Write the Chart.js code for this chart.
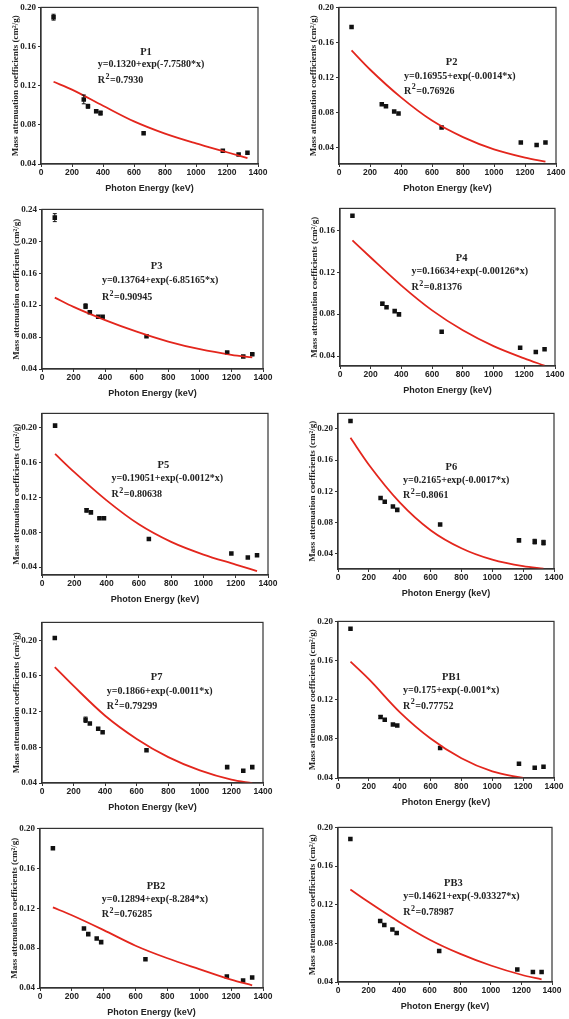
<!DOCTYPE html>
<html>
<head>
<meta charset="utf-8">
<script src="https://cdn.jsdelivr.net/npm/chart.js@4.4.1/dist/chart.umd.min.js"></script>
<style>
  body { margin: 0; background: #fff; }
  #wrap { position: relative; width: 569px; height: 1019px; overflow: hidden; }
  #wrap canvas { position: absolute; }
</style>
</head>
<body>
<div id="wrap"></div>
<script>
// Photon energies (keV) - same for every sample
const energies = [81, 276, 303, 356, 384, 662, 1173, 1275, 1332];
const xTicks = [0, 200, 400, 600, 800, 1000, 1200, 1400];

// Measured mass attenuation coefficients (cm2/g)
const p1Values  = [0.190, 0.106, 0.099, 0.094, 0.092, 0.0714, 0.0535, 0.0498, 0.0515];
const p2Values  = [0.1777, 0.0892, 0.0869, 0.0809, 0.0786, 0.0627, 0.0457, 0.0427, 0.0457];
const p3Values  = [0.2297, 0.1187, 0.1112, 0.1054, 0.1054, 0.081, 0.0607, 0.0557, 0.0586];
const p4Values  = [0.1739, 0.0899, 0.0867, 0.0829, 0.0798, 0.0631, 0.0479, 0.0438, 0.0466];
const p5Values  = [0.202, 0.105, 0.1027, 0.0959, 0.0959, 0.0723, 0.0556, 0.051, 0.0537];
const p6Values  = [0.2101, 0.1112, 0.1065, 0.1002, 0.096, 0.0771, 0.0568, 0.0552, 0.0539];
const p7Values  = [0.2026, 0.1109, 0.1068, 0.1009, 0.0968, 0.0767, 0.0578, 0.0537, 0.0578];
const pb1Values = [0.1926, 0.1023, 0.0996, 0.0946, 0.0936, 0.0707, 0.0545, 0.0504, 0.0514];
const pb2Values = [0.1801, 0.0996, 0.094, 0.0897, 0.086, 0.0688, 0.0516, 0.0476, 0.0506];
const pb3Values = [0.188, 0.1032, 0.0991, 0.0944, 0.0906, 0.0721, 0.053, 0.0503, 0.0503];

// Error bars (only the visible ones)
const p1Errors  = [0.003, 0.0045, 0.002, 0.0015, 0.002, 0, 0, 0, 0];
const p3Errors  = [0.005, 0.003, 0.001, 0, 0.001, 0, 0.001, 0, 0.001];
const p4Errors  = [0, 0.0015, 0, 0, 0.001, 0, 0, 0, 0];
const p5Errors  = [0, 0.002, 0, 0.001, 0, 0, 0, 0, 0];
const p6Errors  = [0, 0, 0, 0, 0, 0, 0, 0.003, 0.003];
const p7Errors  = [0, 0.003, 0, 0, 0, 0, 0, 0, 0];
const pb1Errors = [0, 0.0015, 0, 0, 0, 0, 0, 0, 0];
const pb3Errors = [0, 0, 0, 0, 0.0015, 0, 0, 0, 0];
const noErrors  = [0, 0, 0, 0, 0, 0, 0, 0, 0];

// Fitted curves
const fitX    = [81, 200, 400, 600, 800, 1000, 1200, 1332];
const pb1FitX = [81, 200, 400, 600, 800, 1000, 1200];
const p1Fit  = [0.124, 0.116, 0.0995, 0.0835, 0.071, 0.061, 0.052, 0.046];
const p2Fit  = [0.1508, 0.129, 0.0971, 0.0706, 0.0517, 0.0377, 0.0283, 0.0237];
const p3Fit  = [0.1294, 0.1178, 0.1013, 0.0868, 0.0744, 0.0648, 0.0578, 0.0545];
const p4Fit  = [0.1505, 0.1341, 0.1073, 0.0836, 0.0646, 0.0495, 0.0378, 0.0308];
const p5Fit  = [0.1696, 0.1487, 0.1164, 0.089, 0.0689, 0.0544, 0.043, 0.0354];
const p6Fit  = [0.1886, 0.1541, 0.1057, 0.0699, 0.0467, 0.032, 0.0236, 0.0206];
const p7Fit  = [0.1699, 0.1488, 0.1154, 0.0894, 0.069, 0.0541, 0.0437, 0.0398];
const pb1Fit = [0.1589, 0.141, 0.1074, 0.0804, 0.0602, 0.0467, 0.0400];
const pb2Fit = [0.1208, 0.1129, 0.098, 0.0824, 0.0698, 0.0589, 0.0483, 0.0427];
const pb3Fit = [0.1357, 0.1227, 0.1022, 0.0838, 0.0691, 0.0571, 0.0475, 0.0427];

// Y tick labels
const yTicks20 = [0.04, 0.08, 0.12, 0.16, 0.20];
const yTicks24 = [0.04, 0.08, 0.12, 0.16, 0.20, 0.24];
const yTicks16 = [0.04, 0.08, 0.12, 0.16];

// Panel setup: box = plot area [left, top, right, bottom] on the page,
// txt = [label x, label y, formula x, formula y, R2 y] as fractions of the plot area
const panels = [
  { name: 'P1', values: p1Values, errors: p1Errors, fx: fitX, fit: p1Fit, formula: 'y=0.1320+exp(-7.7580*x)', r2: '0.7930',
    yMin: 0.04, yMax: 0.20, yTicks: yTicks20, box: [41, 6, 258, 164], txt: [0.484, 0.289, 0.262, 0.363, 0.468] },
  { name: 'P2', values: p2Values, errors: noErrors, fx: fitX, fit: p2Fit, formula: 'y=0.16955+exp(-0.0014*x)', r2: '0.76926',
    yMin: 0.021, yMax: 0.20, yTicks: yTicks20, box: [339, 6, 556, 164], txt: [0.519, 0.352, 0.300, 0.443, 0.536] },
  { name: 'P3', values: p3Values, errors: p3Errors, fx: fitX, fit: p3Fit, formula: 'y=0.13764+exp(-6.85165*x)', r2: '0.90945',
    yMin: 0.04, yMax: 0.24, yTicks: yTicks24, box: [42, 208, 263, 369], txt: [0.519, 0.356, 0.271, 0.445, 0.553] },
  { name: 'P4', values: p4Values, errors: p4Errors, fx: fitX, fit: p4Fit, formula: 'y=0.16634+exp(-0.00126*x)', r2: '0.81376',
    yMin: 0.0305, yMax: 0.181, yTicks: yTicks16, box: [340, 207, 555, 366], txt: [0.566, 0.315, 0.333, 0.401, 0.504] },
  { name: 'P5', values: p5Values, errors: p5Errors, fx: fitX, fit: p5Fit, formula: 'y=0.19051+exp(-0.0012*x)', r2: '0.80638',
    yMin: 0.031, yMax: 0.216, yTicks: yTicks20, box: [42, 412, 268, 575], txt: [0.537, 0.324, 0.308, 0.402, 0.504] },
  { name: 'P6', values: p6Values, errors: p6Errors, fx: fitX, fit: p6Fit, formula: 'y=0.2165+exp(-0.0017*x)', r2: '0.8061',
    yMin: 0.02, yMax: 0.22, yTicks: yTicks20, box: [338, 412, 554, 569], txt: [0.525, 0.349, 0.301, 0.429, 0.529] },
  { name: 'P7', values: p7Values, errors: p7Errors, fx: fitX, fit: p7Fit, formula: 'y=0.1866+exp(-0.0011*x)', r2: '0.79299',
    yMin: 0.04, yMax: 0.22, yTicks: yTicks20, box: [42, 621, 263, 783], txt: [0.519, 0.344, 0.293, 0.427, 0.526] },
  { name: 'PB1', values: pb1Values, errors: pb1Errors, fx: pb1FitX, fit: pb1Fit, formula: 'y=0.175+exp(-0.001*x)', r2: '0.77752',
    yMin: 0.04, yMax: 0.20, yTicks: yTicks20, box: [338, 620, 554, 778], txt: [0.525, 0.358, 0.301, 0.442, 0.543] },
  { name: 'PB2', values: pb2Values, errors: noErrors, fx: fitX, fit: pb2Fit, formula: 'y=0.12894+exp(-8.284*x)', r2: '0.76285',
    yMin: 0.04, yMax: 0.20, yTicks: yTicks20, box: [40, 827, 263, 988], txt: [0.52, 0.362, 0.277, 0.447, 0.54] },
  { name: 'PB3', values: pb3Values, errors: pb3Errors, fx: fitX, fit: pb3Fit, formula: 'y=0.14621+exp(-9.03327*x)', r2: '0.78987',
    yMin: 0.04, yMax: 0.20, yTicks: yTicks20, box: [338, 826, 552, 982], txt: [0.539, 0.359, 0.305, 0.449, 0.551] },
];

const Y_AXIS_W = 40, X_AXIS_H = 34, PAD_TOP = 6, PAD_RIGHT = 12;
const serif = '"Liberation Serif", "Times New Roman", serif';
const sans = '"Liberation Sans", Arial, sans-serif';

// box around the plot area
const framePlugin = {
  id: 'frame',
  afterDraw(chart) {
    const { ctx, chartArea: a } = chart;
    ctx.save();
    ctx.strokeStyle = '#333';
    ctx.lineWidth = 1.2;
    ctx.strokeRect(a.left, a.top, a.right - a.left, a.bottom - a.top);
    ctx.restore();
  }
};

// vertical error bars on the measured points
const errorBarPlugin = {
  id: 'errorBars',
  afterDatasetsDraw(chart, args, opts) {
    const errs = opts.errors || [];
    const { ctx, scales: { x, y } } = chart;
    const data = chart.data.datasets[1].data;
    ctx.save();
    ctx.strokeStyle = '#111';
    ctx.lineWidth = 1;
    data.forEach((p, i) => {
      if (!errs[i]) return;
      const px = x.getPixelForValue(p.x);
      const y1 = y.getPixelForValue(p.y - errs[i]);
      const y2 = y.getPixelForValue(p.y + errs[i]);
      ctx.beginPath();
      ctx.moveTo(px, y1); ctx.lineTo(px, y2);
      ctx.moveTo(px - 2, y1); ctx.lineTo(px + 2, y1);
      ctx.moveTo(px - 2, y2); ctx.lineTo(px + 2, y2);
      ctx.stroke();
    });
    ctx.restore();
  }
};

// sample name, fit equation and R2
const fitTextPlugin = {
  id: 'fitText',
  afterDraw(chart, args, opts) {
    const { ctx, chartArea: a } = chart;
    const w = a.right - a.left, h = a.bottom - a.top;
    const t = opts.pos;
    ctx.save();
    ctx.fillStyle = '#222';
    ctx.textBaseline = 'middle';
    ctx.font = 'bold 10.5px ' + serif;
    ctx.textAlign = 'center';
    ctx.fillText(opts.name, a.left + t[0] * w, a.top + t[1] * h);
    ctx.font = 'bold 10px ' + serif;
    ctx.textAlign = 'left';
    const fx = a.left + t[2] * w;
    ctx.fillText(opts.formula, fx, a.top + t[3] * h);
    const ry = a.top + t[4] * h;
    ctx.fillText('R', fx, ry);
    const rw = ctx.measureText('R').width;
    ctx.font = 'bold 8px ' + serif;
    ctx.fillText('2', fx + rw + 0.5, ry - 4);
    const sw = ctx.measureText('2').width;
    ctx.font = 'bold 10px ' + serif;
    ctx.fillText('=' + opts.r2, fx + rw + sw + 1, ry);
    ctx.restore();
  }
};

const wrap = document.getElementById('wrap');

panels.forEach(p => {
  const [pl, pt, pr, pb] = p.box;
  const canvas = document.createElement('canvas');
  canvas.width = (pr - pl) + Y_AXIS_W + PAD_RIGHT;
  canvas.height = (pb - pt) + PAD_TOP + X_AXIS_H;
  canvas.style.left = (pl - Y_AXIS_W) + 'px';
  canvas.style.top = (pt - PAD_TOP) + 'px';
  wrap.appendChild(canvas);

  new Chart(canvas.getContext('2d'), {
    type: 'scatter',
    data: {
      datasets: [
        {
          type: 'line',
          data: p.fx.map((x, i) => ({ x: x, y: p.fit[i] })),
          borderColor: '#e3261d',
          borderWidth: 1.8,
          pointRadius: 0,
          cubicInterpolationMode: 'monotone',
          fill: false
        },
        {
          data: energies.map((x, i) => ({ x: x, y: p.values[i] })),
          pointStyle: 'rect',
          pointRadius: 3.2,
          backgroundColor: '#111',
          borderColor: '#111',
          borderWidth: 0
        }
      ]
    },
    options: {
      responsive: false,
      animation: false,
      layout: { padding: { top: PAD_TOP, right: PAD_RIGHT, left: 0, bottom: 0 } },
      plugins: {
        legend: { display: false },
        tooltip: { enabled: false },
        errorBars: { errors: p.errors },
        fitText: { name: p.name, formula: p.formula, r2: p.r2, pos: p.txt }
      },
      scales: {
        x: {
          type: 'linear',
          min: 0,
          max: 1400,
          afterBuildTicks: s => { s.ticks = xTicks.map(v => ({ value: v })); },
          afterFit: s => { s.height = X_AXIS_H; },
          ticks: {
            font: { family: sans, size: 8.5, weight: 'bold' },
            color: '#222',
            padding: 1,
            maxRotation: 0,
            callback: v => String(v)
          },
          grid: { drawOnChartArea: false, tickLength: 3, color: '#333' },
          border: { color: '#333', width: 1.2 },
          title: {
            display: true,
            text: 'Photon Energy (keV)',
            font: { family: sans, size: 9, weight: 'bold' },
            color: '#222',
            padding: { top: 0, bottom: 4 }
          }
        },
        y: {
          type: 'linear',
          min: p.yMin,
          max: p.yMax,
          afterBuildTicks: s => { s.ticks = p.yTicks.map(v => ({ value: v })); },
          afterFit: s => { s.width = Y_AXIS_W; },
          ticks: {
            font: { family: serif, size: 9, weight: 'bold' },
            color: '#222',
            padding: 2,
            callback: v => v.toFixed(2)
          },
          grid: { drawOnChartArea: false, tickLength: 3, color: '#333' },
          border: { color: '#333', width: 1.2 },
          title: {
            display: true,
            text: 'Mass attenuation coefficients (cm²/g)',
            font: { family: serif, size: 9, weight: 'bold' },
            color: '#222',
            padding: { top: 9, bottom: 0 }
          }
        }
      }
    },
    plugins: [framePlugin, errorBarPlugin, fitTextPlugin]
  });
});
</script>
</body>
</html>
